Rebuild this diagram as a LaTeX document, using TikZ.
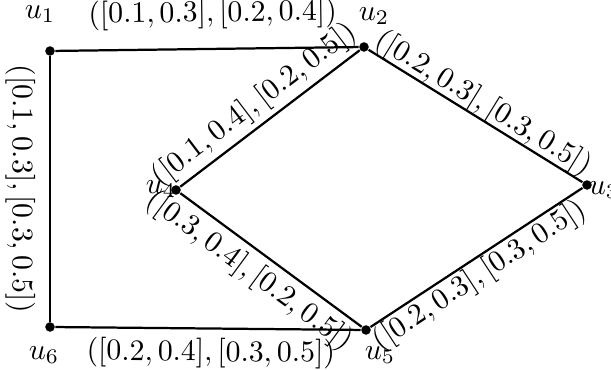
\documentclass[tikz,border=0pt]{standalone}
\begin{document}
\begin{tikzpicture}[x=0.0118cm,y=-0.0118cm,
  vtx/.style={circle,fill,inner sep=0pt,minimum size=3.2pt},
  edge/.style={line width=0.75pt},
  lab/.style={inner sep=1pt,sloped},
  vlab/.style={inner sep=0pt}]
\useasboundingbox (0,0) rectangle (611,370);
\node[vtx] (u1) at (50,51) {};
\node[vtx] (u2) at (364,47) {};
\node[vtx] (u3) at (587,185) {};
\node[vtx] (u4) at (176,190) {};
\node[vtx] (u5) at (366,330) {};
\node[vtx] (u6) at (50,327) {};
\node[vlab] (l1) at (40,14) {$u_1$};
\node[vlab] (l2) at (374,16) {$u_2$};
\node[vlab] (l3) at (604,190) {$u_3$};
\node[vlab] (l4) at (161,189) {$u_4$};
\node[vlab] (l5) at (380,355) {$u_5$};
\node[vlab] (l6) at (44,355) {$u_6$};
\draw[edge] (u1) -- node[lab,pos=0.52,above=5.3pt] (e12) {$([0.1,0.3],[0.2,0.4])$} (u2);
\draw[edge] (u1) -- node[lab,pos=0.5,below=3.6pt] (e16) {$([0.1,0.3],[0.3,0.5])$} (u6);
\draw[edge] (u6) -- node[lab,pos=0.51,below=2pt] (e65) {$([0.2,0.4],[0.3,0.5])$} (u5);
\draw[edge] (u4) -- node[lab,pos=0.48,above=0.5pt] (e42) {$([0.1,0.4],[0.2,0.5])$} (u2);
\draw[edge] (u4) -- node[lab,pos=0.45,below=1pt] (e45) {$([0.3,0.4],[0.2,0.5])$} (u5);
\draw[edge] (u2) -- node[lab,pos=0.5,above=-1.5pt] (e23) {$([0.2,0.3],[0.3,0.5])$} (u3);
\draw[edge] (u5) -- node[lab,pos=0.47,below=-0.7pt] (e53) {$([0.2,0.3],[0.3,0.5])$} (u3);
\end{tikzpicture}
\end{document}
